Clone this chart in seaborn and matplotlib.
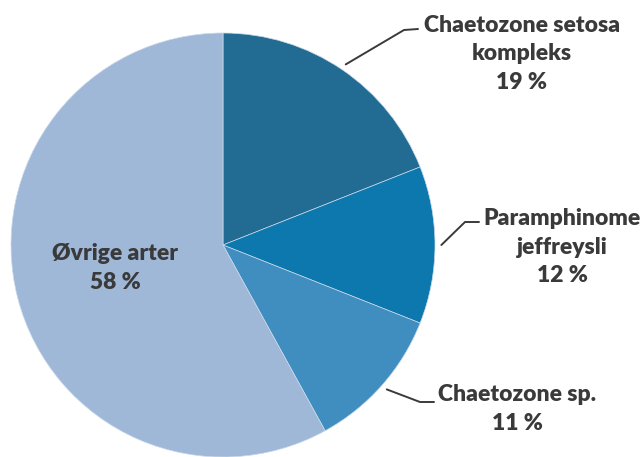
import matplotlib
matplotlib.use("Agg")
import matplotlib.pyplot as plt
import numpy as np
import seaborn as sns

# Share of individuals per species group
labels = ["Chaetozone setosa\nkompleks", "Paramphinome\njeffreysli", "Chaetozone sp.", "Øvrige arter"]
shares = [19, 12, 11, 58]
colors = ["#226b93", "#0d78ae", "#3f8ebf", "#9fb8d8"]

sns.set_theme(style="white")
plt.rcParams["font.family"] = ["Lato", "DejaVu Sans"]

W, H, DPI = 644, 457, 100
fig = plt.figure(figsize=(W / DPI, H / DPI), dpi=DPI)
ax = fig.add_axes([0, 0, 1, 1])

# pixel layout of the pie: centre and radius
cx, cy, R = 223, 245, 212

wedges, _ = ax.pie(shares, colors=colors, startangle=90, counterclock=False,
                   radius=1.0, center=(0, 0), frame=True,
                   wedgeprops=dict(linewidth=0.5, edgecolor="#c9d8ea"))
ax.set_xlim(-cx / R, (W - cx) / R)
ax.set_ylim(-(H - cy) / R, cy / R)
ax.set_aspect("auto")
ax.axis("off")


def px(x, y):
    return (x - cx) / R, (cy - y) / R


txt_kw = dict(fontsize=16.5, fontweight="heavy", color="#3a3a3a",
              ha="center", va="center", linespacing=1.45)

# outside labels with elbow leader lines: (elbow px, end px, text centre px)
outside = [
    ((404, 30), (418, 29), (522, 54)),
    ((465, 222), (479, 222), (562, 247)),
    ((420, 402), (434, 402), (517, 409)),
]
for i, (elbow, end, tc) in enumerate(outside):
    w = wedges[i]
    mid = np.deg2rad((w.theta1 + w.theta2) / 2)
    sx, sy = 1.03 * np.cos(mid), 1.03 * np.sin(mid)
    ex, ey = px(*elbow)
    fx, fy = px(*end)
    ax.plot([sx, ex, fx], [sy, ey, fy], color="#3a3a3a", lw=1.4,
            solid_joinstyle="miter")
    tx, ty = px(*tc)
    ax.text(tx, ty, f"{labels[i]}\n{shares[i]} %", **txt_kw)

# label inside the largest slice
tx, ty = px(115, 268)
ax.text(tx, ty, f"{labels[3]}\n{shares[3]} %", **txt_kw)

fig.savefig("out.png", dpi=DPI)
